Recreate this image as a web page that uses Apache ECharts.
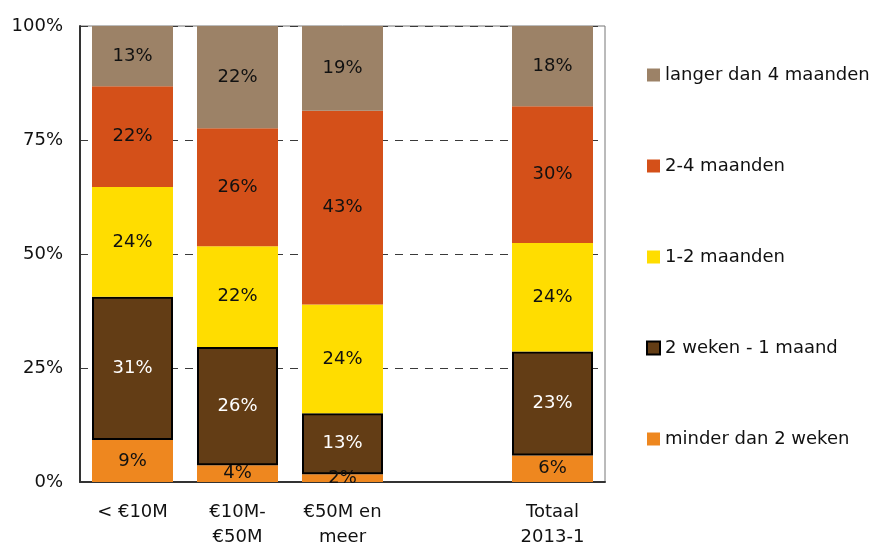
<!DOCTYPE html>
<html>
<head>
<meta charset="utf-8">
<script src="https://cdn.jsdelivr.net/npm/echarts@6/dist/echarts.min.js"></script>
<style>
  html, body { margin: 0; padding: 0; background: #fff; }
  #chart { width: 877px; height: 547px; }
</style>
</head>
<body>
<div id="chart"></div>
<script>
var categories = ['< €10M', '€10M-\n€50M', '€50M en\nmeer', '', 'Totaal\n2013-1'];
var yTicks = ['0%', '25%', '50%', '75%', '100%'];

// aandeel per categorie (in %), lege kolom = null
var minder2Weken = [9.2, 3.7, 1.7, null, 5.8];
var weken2tot1Maand = [31.4, 25.9, 13.4, null, 22.8];
var maanden1tot2 = [24.1, 22.1, 23.8, null, 23.8];
var maanden2tot4 = [22.1, 25.9, 42.5, null, 30.0];
var langerDan4 = [13.2, 22.4, 18.6, null, 17.6];

var seriesNames = ['minder dan 2 weken', '2 weken - 1 maand', '1-2 maanden', '2-4 maanden', 'langer dan 4 maanden'];
var seriesData = [minder2Weken, weken2tot1Maand, maanden1tot2, maanden2tot4, langerDan4];
var colors = ['#EE871F', '#633D15', '#FFDD00', '#D45019', '#9C8267'];

var font = 'DejaVu Sans';

var series = seriesData.map(function (d, i) {
    var isBrown = i == 1;
    return {
        name: seriesNames[i],
        type: 'bar',
        stack: 'totaal',
        data: d,
        barWidth: 81,
        itemStyle: {
            color: colors[i],
            borderColor: isBrown ? '#000' : colors[i],
            borderWidth: isBrown ? 2 : 0
        },
        label: {
            show: true,
            position: 'inside',
            fontFamily: font,
            fontSize: 18,
            color: isBrown ? '#fff' : '#111',
            formatter: function (p) {
                return p.value == null ? '' : Math.round(p.value) + '%';
            }
        }
    };
});

var myChart = echarts.init(document.getElementById('chart'));
var option = {
    animation: false,
    grid: {
        left: 80,
        top: 26,
        right: 272,
        bottom: 65,
        outerBoundsMode: 'none',
        containLabel: false,
        show: true,
        borderColor: '#777',
        borderWidth: 1
    },
    legend: {
        orient: 'vertical',
        left: 641,
        top: 60,
        itemWidth: 13,
        itemHeight: 13,
        itemGap: 71,
        icon: 'rect',
        data: seriesNames.slice().reverse(),
        textStyle: {
            fontFamily: font,
            fontSize: 18,
            color: '#111',
            lineHeight: 20
        }
    },
    xAxis: {
        type: 'category',
        data: categories,
        axisLine: { show: true, lineStyle: { color: '#333', width: 2 } },
        axisTick: { show: false },
        axisLabel: {
            interval: 0,
            margin: 18,
            fontFamily: font,
            fontSize: 18,
            lineHeight: 25,
            color: '#111'
        }
    },
    yAxis: {
        type: 'value',
        min: 0,
        max: 100,
        interval: 25,
        axisLine: { show: true, lineStyle: { color: '#333', width: 2 } },
        axisTick: { show: false },
        axisLabel: {
            margin: 17,
            fontFamily: font,
            fontSize: 18,
            color: '#111',
            formatter: function (v) { return yTicks[v / 25]; }
        },
        splitLine: {
            show: true,
            lineStyle: { color: '#3a3a3a', type: [8, 7], width: 1.2 }
        }
    },
    series: series
};
myChart.setOption(option);
window.addEventListener('resize', function () {
    myChart.resize();
});
</script>
</body>
</html>
